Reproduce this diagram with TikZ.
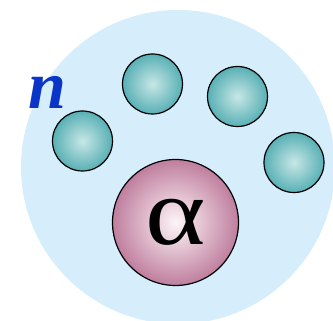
\documentclass[tikz,border=0pt]{standalone}
\usepackage{fontspec}
\setmainfont{Liberation Serif}
\usepackage{graphicx}
\usepackage{tikz}
\usetikzlibrary{positioning}
\definecolor{nucleusblue}{HTML}{D6EEFB}
\definecolor{tealedge}{HTML}{58B0B5}
\definecolor{tealcore}{HTML}{C8E7E6}
\definecolor{alphaedge}{HTML}{BF7E9E}
\definecolor{alphacore}{HTML}{FDF5F7}
\definecolor{labelblue}{HTML}{0B35C8}

\begin{document}
\begin{tikzpicture}[
  x=1pt, y=-1pt,
  nucleus/.style={circle, fill=nucleusblue, minimum size=314pt, inner sep=0pt},
  neutron/.style={circle, draw=black, line width=1.2pt, inner sep=0pt, minimum width=60pt, minimum height=59pt, shading=radial, inner color=tealcore, outer color=tealedge},
  alphaball/.style={circle, draw=black, line width=1.2pt, inner sep=0pt, minimum size=126pt, shading=radial, inner color=alphacore, outer color=alphaedge},
  tag/.style={text=labelblue, font=\fontsize{68}{68}\selectfont\bfseries\itshape}
]
  \useasboundingbox (0,0) rectangle (333,321);
  \clip (0,0) rectangle (333,321);
  \node[nucleus] (core) at (178,167) {};

  \node[neutron] (n1) at (82.5,141) {};
  \node[neutron] (n2) at (152.5,84) {};
  \node[neutron] (n3) at (237.5,96.5) {};
  \node[neutron] (n4) at (294,162.5) {};

  \node[alphaball, font=\fontsize{96}{96}\selectfont] (alpha) at (175.5,222.5) {\raisebox{-3pt}{\scalebox{1.2}[1]{α}}};

  \node[tag] (label) at (47,92) {n};
\end{tikzpicture}
\end{document}
